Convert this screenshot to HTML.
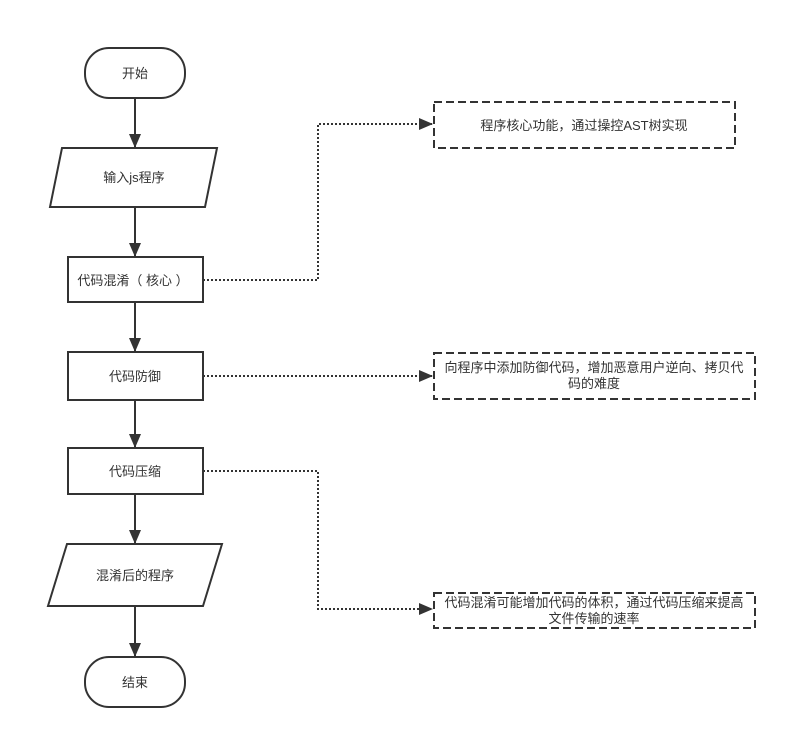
<!DOCTYPE html>
<html><head><meta charset="utf-8"><style>
html,body{margin:0;padding:0;background:#fff;width:787px;height:739px;overflow:hidden}
text{font-family:"Liberation Sans","Noto Sans CJK SC",sans-serif;font-size:13px;fill:#333}
</style></head><body>
<svg width="787" height="739" viewBox="0 0 787 739" xmlns="http://www.w3.org/2000/svg">
<defs>
<marker id="a" markerWidth="14" markerHeight="12" refX="13" refY="6" orient="auto" markerUnits="userSpaceOnUse">
<path d="M0,0 L14,6 L0,12 Z" fill="#333"/></marker>
</defs>
<g fill="none" stroke="#333" stroke-width="2">
<rect x="85" y="48" width="100" height="50" rx="24"/>
<polygon points="217,148 62,148 50,207 205,207"/>
<rect x="68" y="257" width="135" height="45"/>
<rect x="68" y="352" width="135" height="48"/>
<rect x="68" y="448" width="135" height="46"/>
<polygon points="222,544 67,544 48,606 203,606"/>
<rect x="85" y="657" width="100" height="50" rx="24"/>
<line x1="135" y1="98" x2="135" y2="147" marker-end="url(#a)"/>
<line x1="135" y1="207" x2="135" y2="256" marker-end="url(#a)"/>
<line x1="135" y1="302" x2="135" y2="351" marker-end="url(#a)"/>
<line x1="135" y1="400" x2="135" y2="447" marker-end="url(#a)"/>
<line x1="135" y1="494" x2="135" y2="543" marker-end="url(#a)"/>
<line x1="135" y1="607" x2="135" y2="656" marker-end="url(#a)"/>
</g>
<g fill="none" stroke="#333" stroke-width="2" stroke-dasharray="8 4">
<rect x="434" y="102" width="301" height="46"/>
<rect x="434" y="353" width="321" height="46"/>
<rect x="434" y="593" width="321" height="35"/>
</g>
<g fill="none" stroke="#333" stroke-width="2" stroke-dasharray="2 2">
<polyline points="203,280 318,280 318,124 432,124" marker-end="url(#a)"/>
<polyline points="203,376 432,376" marker-end="url(#a)"/>
<polyline points="203,471 318,471 318,609 432,609" marker-end="url(#a)"/>
</g>
<g text-anchor="middle">
<text x="135" y="78">开始</text>
<text x="134" y="182">输入js程序</text>
<text x="133" y="285">代码混淆（ 核心 ）</text>
<text x="135" y="381">代码防御</text>
<text x="135" y="476">代码压缩</text>
<text x="135" y="580">混淆后的程序</text>
<text x="135" y="687">结束</text>
<text x="584" y="130">程序核心功能，通过操控AST树实现</text>
<text x="594" y="372">向程序中添加防御代码，增加恶意用户逆向、拷贝代</text>
<text x="594" y="388">码的难度</text>
<text x="594" y="607">代码混淆可能增加代码的体积，通过代码压缩来提高</text>
<text x="594" y="623">文件传输的速率</text>
</g>
</svg>
</body></html>
